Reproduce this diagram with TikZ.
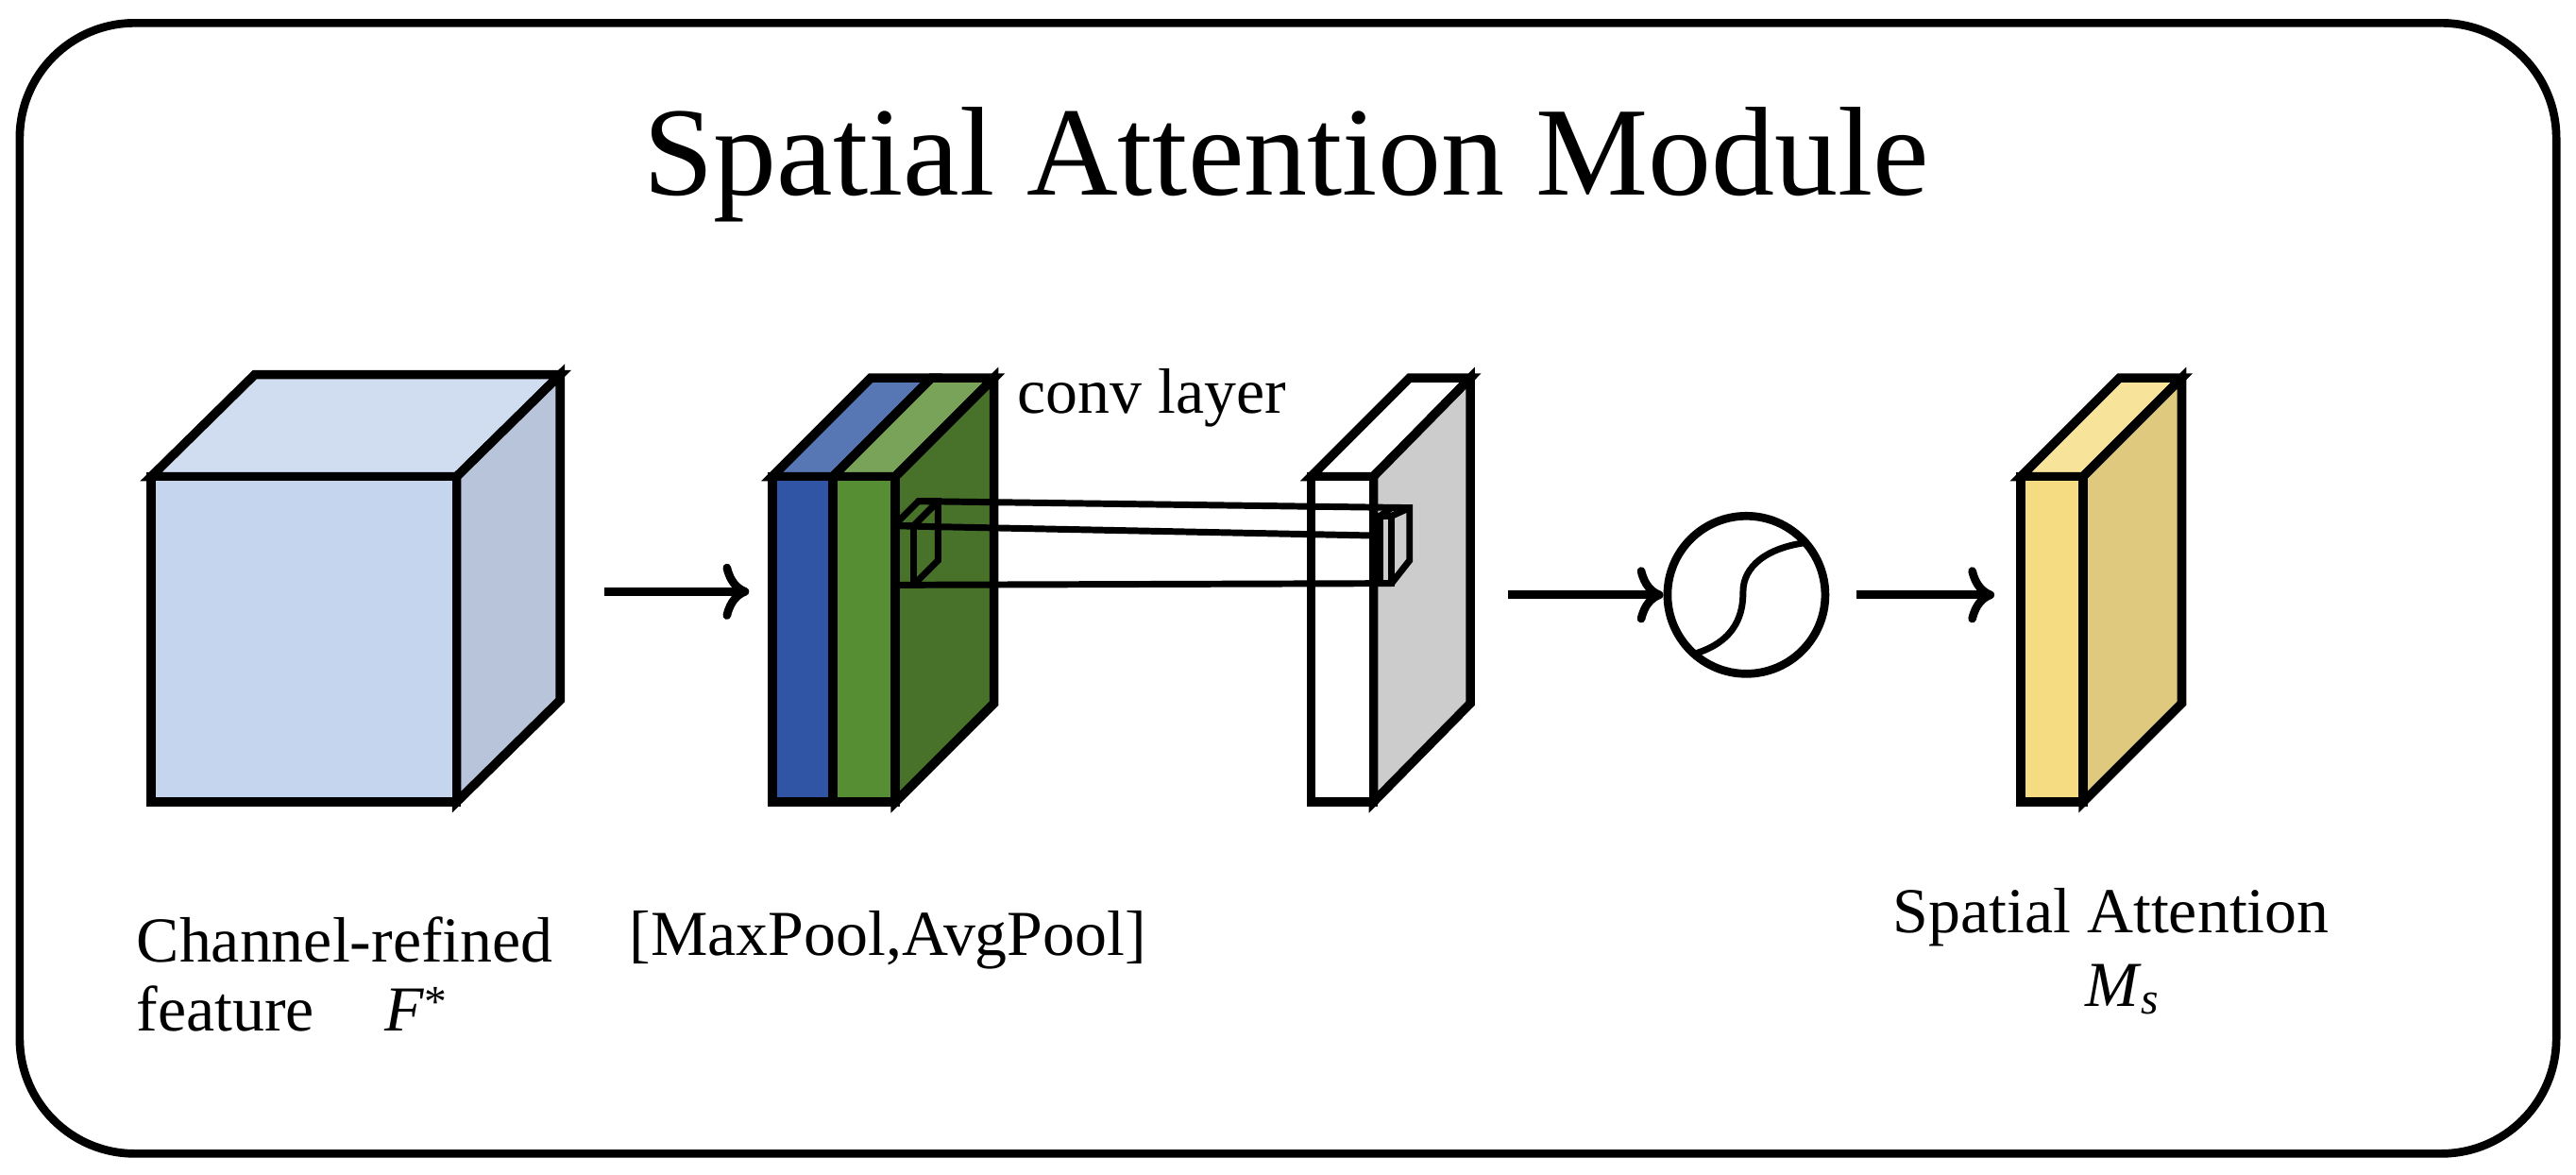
\documentclass[tikz,border=0pt]{standalone}
\usepackage{fontspec}
\setmainfont{Liberation Serif}
\usetikzlibrary{arrows.meta}
\definecolor{cubeF}{HTML}{C6D5EE}\definecolor{cubeT}{HTML}{D0DCEF}\definecolor{cubeS}{HTML}{B8C4DA}
\definecolor{blueF}{HTML}{2F55A4}\definecolor{blueT}{HTML}{5676B4}
\definecolor{greenF}{HTML}{568E33}\definecolor{greenT}{HTML}{7AA35A}\definecolor{greenS}{HTML}{487229}
\definecolor{grayS}{HTML}{CCCCCC}
\definecolor{yelF}{HTML}{F5DC83}\definecolor{yelT}{HTML}{F7E39A}\definecolor{yelS}{HTML}{DFC97F}
\begin{document}
\begin{tikzpicture}[x=1pt,y=-1pt,
  sh/.style={draw=black,line width=5.5pt,line join=miter},
  thin/.style={draw=black,line width=4pt,line join=miter},
  arr/.style={line width=5pt,-{To[length=16pt,width=34pt,line width=5pt]}},
  lab/.style={font=\fontsize{39}{46}\selectfont,inner sep=0pt}]
\useasboundingbox (0,0) rectangle (1568,715);
\draw[line width=5pt,rounded corners=70pt] (12,14) rectangle (1556,702);
\node[font=\fontsize{77}{84}\selectfont] (title) at (783,100) {Spatial Attention Module};
% cube
\filldraw[sh,fill=cubeT] (92,290) -- (155,228) -- (341,228) -- (278,290) -- cycle;
\filldraw[sh,fill=cubeS] (278,290) -- (341,228) -- (341,426) -- (278,488) -- cycle;
\filldraw[sh,fill=cubeF] (92,290) rectangle (278,488);
% stack
\filldraw[sh,fill=blueT] (470,290) -- (530,230) -- (567,230) -- (507,290) -- cycle;
\filldraw[sh,fill=greenT] (507,290) -- (567,230) -- (605,230) -- (545,290) -- cycle;
\filldraw[sh,fill=greenS] (545,290) -- (605,230) -- (605,428) -- (545,488) -- cycle;
\filldraw[sh,fill=blueF] (470,290) rectangle (507,488);
\filldraw[sh,fill=greenF] (507,290) rectangle (545,488);
% conv slab
\filldraw[sh,fill=white] (798,290) -- (858,230) -- (895,230) -- (836,290) -- cycle;
\filldraw[sh,fill=grayS] (836,290) -- (895,230) -- (895,428) -- (836,488) -- cycle;
\filldraw[sh,fill=white] (798,290) rectangle (836,488);
% kernel prism
\draw[thin] (544,320) rectangle (556,356);
\draw[thin] (544,320) -- (559,305) -- (571,305) -- (571,341) -- (556,356);
\draw[thin] (556,320) -- (571,305);
\draw[thin] (840,314) rectangle (847,355);
\draw[thin] (840,314) -- (847,309) -- (858,309) -- (858,341) -- (847,355);
\draw[thin] (847,314) -- (858,309);
\draw[thin] (559,305) -- (858,309);
\draw[thin] (544,320) -- (840,326);
\draw[thin] (544,356) -- (847,355);
\node[lab] (conv) at (701,242) {conv layer};
% sigmoid
\node[circle,draw,line width=5pt,minimum size=96pt,inner sep=0pt] (sig) at (1063,362) {};
\draw[line width=4pt] (1031,398) .. controls (1058,390) and (1061,372) .. (1061,360) .. controls (1061,345) and (1075,333) .. (1101,330);
% yellow slab
\filldraw[sh,fill=yelT] (1230,290) -- (1290,230) -- (1328,230) -- (1268,290) -- cycle;
\filldraw[sh,fill=yelS] (1268,290) -- (1328,230) -- (1328,428) -- (1268,488) -- cycle;
\filldraw[sh,fill=yelF] (1230,290) rectangle (1268,488);
% arrows
\coordinate (a1s) at (368,360); \coordinate (a1e) at (456,360);
\coordinate (a2s) at (918,362); \coordinate (a3s) at (1130,362); \coordinate (a3e) at (1214,362);
\draw[arr] (a1s) -- (a1e);
\draw[arr] (a2s) -- (sig.west);
\draw[arr] (a3s) -- (a3e);
% labels
\node[lab,anchor=west] (l1) at (83,572) {Channel-refined};
\node[lab,anchor=west] (l2) at (83,614) {feature\hspace{1.1em}\textit{F}\textsuperscript{*}};
\node[lab,anchor=west] (l3) at (383,572) {[MaxPool,AvgPool]};
\node[lab] (l4) at (1285,558) {Spatial Attention};
\node[lab] (l5) at (1292,602) {\textit{M}\textsubscript{\textit{s}}};
\end{tikzpicture}
\end{document}
